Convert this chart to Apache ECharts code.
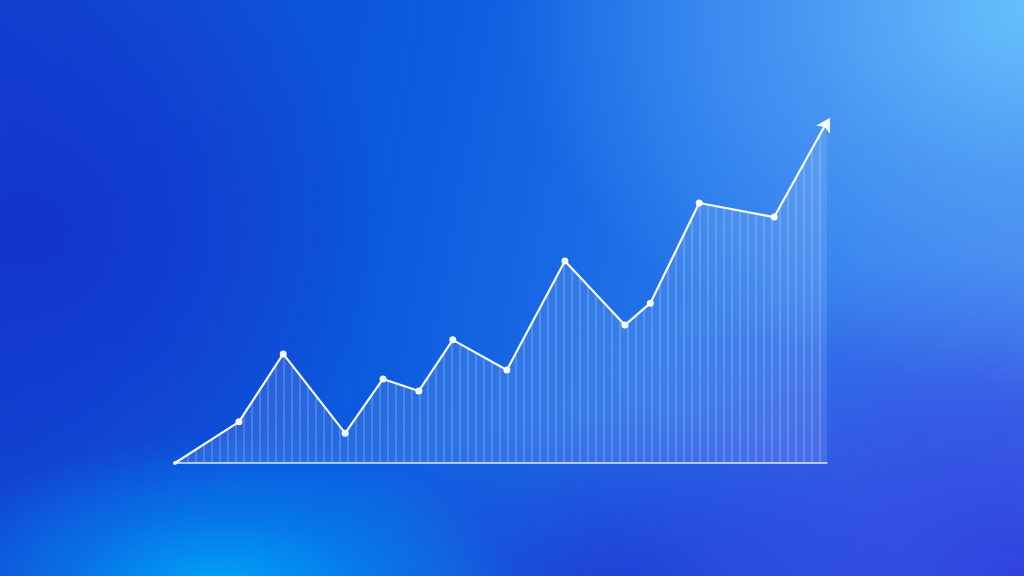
<!DOCTYPE html>
<html>
<head>
<meta charset="utf-8">
<script src="https://cdn.jsdelivr.net/npm/echarts@6/dist/echarts.min.js"></script>
<style>
html,body{margin:0;padding:0;width:1024px;height:576px;overflow:hidden;}
#bg{position:absolute;left:0;top:0;width:1024px;height:576px;
background:
 radial-gradient(ellipse 520px 380px at 1030px 10px, rgba(102,192,252,1) 0%, rgba(90,170,248,0.6) 45%, rgba(90,170,248,0) 100%),
 radial-gradient(ellipse 300px 160px at 220px 595px, rgba(0,168,250,1) 0%, rgba(0,150,245,0.5) 50%, rgba(0,150,245,0) 100%),
 radial-gradient(ellipse 520px 320px at 1024px 576px, rgba(48,66,224,1) 0%, rgba(48,66,224,0.6) 50%, rgba(48,66,224,0) 100%),
 radial-gradient(ellipse 300px 180px at 620px 590px, rgba(24,64,212,1) 0%, rgba(24,64,212,0) 100%),
 radial-gradient(ellipse 360px 320px at 30px 230px, rgba(18,52,204,1) 0%, rgba(18,52,204,0) 100%),
 linear-gradient(100deg, #1442d2 0%, #0b5ade 38%, #2474ea 66%, #4682ee 100%);
}
#chart{position:absolute;left:0;top:0;width:1024px;height:576px;}
</style>
</head>
<body>
<div id="bg"></div>
<div id="chart"></div>
<script>
// x positions (0-100) and values (0-100)
const xValues = [0, 9.8, 16.6, 26.1, 31.9, 37.4, 42.6, 50.9, 59.8, 69.0, 72.9, 80.4, 91.9, 100];
const yValues = [0, 12.0, 31.8, 8.7, 24.5, 21.0, 35.9, 27.1, 58.9, 40.2, 46.6, 75.8, 71.7, 99.5];

const data = xValues.map((x, i) => {
  const item = { value: [x, yValues[i]] };
  if (i === 0) item.symbolSize = 4;
  if (i === xValues.length - 1) {
    item.symbol = 'arrow';
    item.symbolSize = [12, 14];
    item.symbolRotate = -30;
    item.symbolOffset = [3, -4];
  }
  return item;
});

// stripe pattern for the area fill
const pc = document.createElement('canvas');
pc.width = 8; pc.height = 8;
const ctx = pc.getContext('2d');
ctx.fillStyle = 'rgba(255,255,255,0.11)';
ctx.fillRect(0, 0, 8, 8);
ctx.fillStyle = 'rgba(255,255,255,0.16)';
ctx.fillRect(3, 0, 2, 8);

const chart = echarts.init(document.getElementById('chart'), null, { renderer: 'canvas' });
chart.setOption({
  backgroundColor: 'transparent',
  animation: false,
  grid: { left: 175, right: 197, top: 120, bottom: 113 },
  xAxis: {
    type: 'value', min: 0, max: 100,
    axisLine: { show: true, lineStyle: { color: 'rgba(255,255,255,0.85)', width: 1.5 } },
    axisTick: { show: false }, axisLabel: { show: false }, splitLine: { show: false }
  },
  yAxis: {
    type: 'value', min: 0, max: 100,
    axisLine: { show: false }, axisTick: { show: false }, axisLabel: { show: false }, splitLine: { show: false }
  },
  series: [{
    type: 'line',
    data: data,
    symbol: 'circle',
    symbolSize: 7,
    showAllSymbol: true,
    itemStyle: { color: '#ffffff', opacity: 0.95 },
    lineStyle: { color: '#ffffff', width: 2.2, opacity: 0.95 },
    areaStyle: { color: { image: pc, repeat: 'repeat' }, opacity: 1 },
    z: 3
  }]
});
</script>
</body>
</html>
